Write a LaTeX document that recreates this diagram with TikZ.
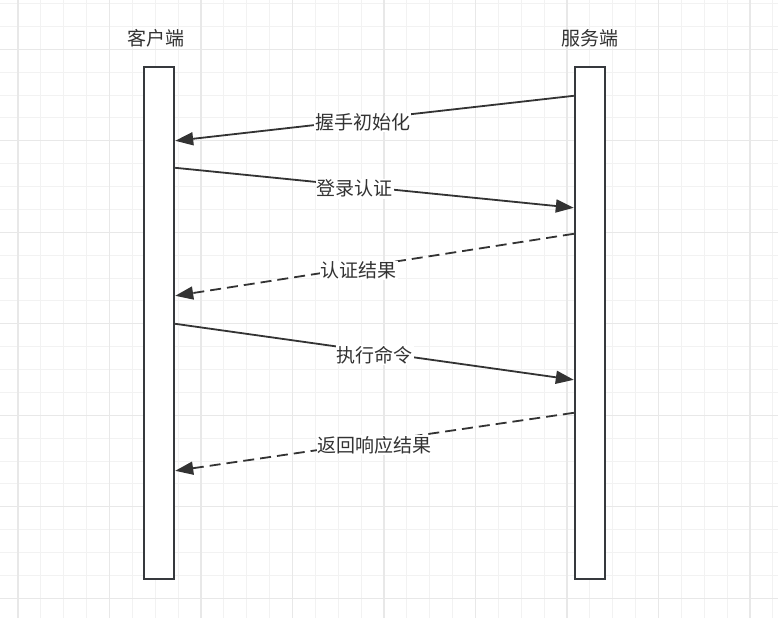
\documentclass[tikz,border=0pt]{standalone}
\usepackage{fontspec}
\setmainfont{Noto Sans CJK SC}
\usetikzlibrary{arrows.meta}
\definecolor{ink}{HTML}{333333}
\definecolor{boxline}{HTML}{36393D}
\definecolor{gminor}{HTML}{F2F2F2}
\definecolor{gmajor}{HTML}{E8E8E8}
\begin{document}
\begin{tikzpicture}[x=1pt,y=-1pt,
  lifeline/.style={draw=boxline,line width=2.4pt,fill=white,minimum width=30pt,minimum height=512pt,inner sep=0pt},
  title/.style={text=ink,font=\fontsize{19}{19}\selectfont,inner sep=0pt},
  msg/.style={draw=ink,line width=1.8pt,-{Triangle[length=18pt,width=13pt]}},
  reply/.style={msg,dash pattern=on 11pt off 6pt},
  lbl/.style={fill=white,text=ink,font=\fontsize{19}{19}\selectfont,inner sep=1pt,yshift=-3pt},
]
\useasboundingbox (0,0) rectangle (778,618);
\fill[white] (0,0) rectangle (778,618);
% grid
\foreach \i in {-1,...,34} {\draw[gminor,line width=1pt] ({18+22.875*\i},0) -- ({18+22.875*\i},618);}
\foreach \i in {-2,...,24} {\draw[gminor,line width=1pt] (0,{49.3+22.875*\i}) -- (778,{49.3+22.875*\i});}
\foreach \i in {0,...,8} {\draw[gmajor,line width=1.2pt] ({18+91.5*\i},0) -- ({18+91.5*\i},618);}
\foreach \i in {0,...,6} {\draw[gmajor,line width=1.2pt] (0,{49.3+91.5*\i}) -- (778,{49.3+91.5*\i});}
% titles
\node[title] (ct) at (156,38) {客户端};
\node[title] (st) at (590,38) {服务端};
% lifelines
\node[lifeline] (c) at (159,323) {};
\node[lifeline] (s) at (590,323) {};
% messages
\draw[msg] ([yshift=-30pt]s.north west) -- node[lbl,pos=0.53] (l1) {握手初始化} ([yshift=-75pt]c.north east);
\draw[msg] ([yshift=-102pt]c.north east) -- node[lbl,pos=0.45] (l2) {登录认证} ([yshift=-142pt]s.north west);
\draw[reply] ([yshift=-168pt]s.north west) -- node[lbl,pos=0.54] (l3) {认证结果} ([yshift=-230pt]c.north east);
\draw[msg] ([yshift=-258pt]c.north east) -- node[lbl,pos=0.5] (l4) {执行命令} ([yshift=-314pt]s.north west);
\draw[reply] ([yshift=-347pt]s.north west) -- node[lbl,pos=0.5] (l5) {返回响应结果} ([yshift=-405pt]c.north east);
\end{tikzpicture}
\end{document}
